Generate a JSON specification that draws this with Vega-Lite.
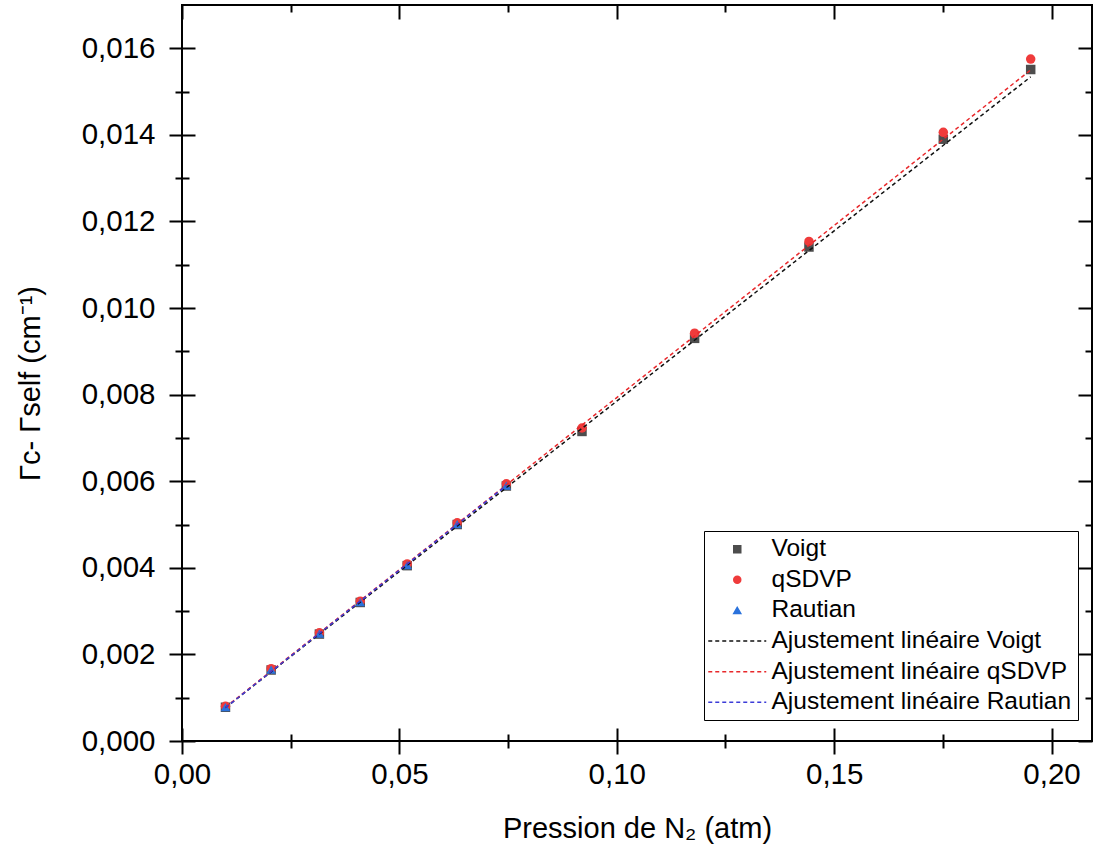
{
  "$schema": "https://vega.github.io/schema/vega-lite/v6.json",
  "width": 910,
  "height": 736,
  "autosize": {"type": "none"},
  "padding": {"left": 182, "top": 5, "right": 2, "bottom": 113},
  "background": "white",
  "config": {
    "view": {"stroke": "black", "strokeWidth": 2},
    "font": "Liberation Sans",
    "axis": {
      "grid": false,
      "domain": false,
      "tickColor": "black",
      "tickWidth": 2,
      "labelFlush": false,
      "labelOverlap": false,
      "labelFont": "Liberation Sans",
      "labelFontSize": 29.5,
      "labelColor": "black",
      "titleFont": "Liberation Sans",
      "titleFontSize": 29,
      "titleFontWeight": "normal",
      "titleColor": "black"
    },
    "legend": {
      "title": null,
      "orient": "none",
      "legendX": 522,
      "legendY": 526,
      "padding": 6,
      "strokeColor": "black",
      "fillColor": "white",
      "cornerRadius": 0,
      "labelFont": "Liberation Sans",
      "labelFontSize": 24.5,
      "labelColor": "black",
      "labelLimit": 400,
      "symbolSize": 49,
      "symbolStrokeWidth": 1.5,
      "symbolOffset": 15,
      "labelOffset": 22,
      "rowPadding": 5.6
    }
  },
  "datasets": {
    "pts": [
      {"p": 0.0100, "g": 0.00078, "series": "Voigt"},
      {"p": 0.0205, "g": 0.00164, "series": "Voigt"},
      {"p": 0.0316, "g": 0.00247, "series": "Voigt"},
      {"p": 0.0410, "g": 0.00320, "series": "Voigt"},
      {"p": 0.0518, "g": 0.00405, "series": "Voigt"},
      {"p": 0.0633, "g": 0.00500, "series": "Voigt"},
      {"p": 0.0746, "g": 0.00589, "series": "Voigt"},
      {"p": 0.0920, "g": 0.00715, "series": "Voigt"},
      {"p": 0.1179, "g": 0.00930, "series": "Voigt"},
      {"p": 0.1442, "g": 0.01141, "series": "Voigt"},
      {"p": 0.1751, "g": 0.01390, "series": "Voigt"},
      {"p": 0.1952, "g": 0.01551, "series": "Voigt"},
      {"p": 0.0100, "g": 0.00080, "series": "qSDVP"},
      {"p": 0.0205, "g": 0.00167, "series": "qSDVP"},
      {"p": 0.0316, "g": 0.00250, "series": "qSDVP"},
      {"p": 0.0410, "g": 0.00323, "series": "qSDVP"},
      {"p": 0.0518, "g": 0.00409, "series": "qSDVP"},
      {"p": 0.0633, "g": 0.00504, "series": "qSDVP"},
      {"p": 0.0746, "g": 0.00594, "series": "qSDVP"},
      {"p": 0.0920, "g": 0.00723, "series": "qSDVP"},
      {"p": 0.1179, "g": 0.00942, "series": "qSDVP"},
      {"p": 0.1442, "g": 0.01154, "series": "qSDVP"},
      {"p": 0.1751, "g": 0.01406, "series": "qSDVP"},
      {"p": 0.1952, "g": 0.01575, "series": "qSDVP"},
      {"p": 0.0100, "g": 0.00078, "series": "Rautian"},
      {"p": 0.0205, "g": 0.00165, "series": "Rautian"},
      {"p": 0.0316, "g": 0.00248, "series": "Rautian"},
      {"p": 0.0410, "g": 0.00321, "series": "Rautian"},
      {"p": 0.0518, "g": 0.00406, "series": "Rautian"},
      {"p": 0.0633, "g": 0.00501, "series": "Rautian"},
      {"p": 0.0746, "g": 0.00590, "series": "Rautian"}
    ],
    "fits": [
      {"p": 0.0100, "g": 0.00077, "series": "Ajustement linéaire Voigt"},
      {"p": 0.1952, "g": 0.01534, "series": "Ajustement linéaire Voigt"},
      {"p": 0.0100, "g": 0.00078, "series": "Ajustement linéaire qSDVP"},
      {"p": 0.1952, "g": 0.01550, "series": "Ajustement linéaire qSDVP"},
      {"p": 0.0100, "g": 0.00077, "series": "Ajustement linéaire Rautian"},
      {"p": 0.0746, "g": 0.00590, "series": "Ajustement linéaire Rautian"}
    ]
  },
  "resolve": {"axis": {"x": "independent", "y": "independent"}},
  "layer": [
    {
      "data": {"name": "pts"},
      "mark": {"type": "point", "filled": true, "opacity": 1, "size": 90},
      "encoding": {
        "x": {
          "field": "p", "type": "quantitative",
          "scale": {"domain": [0, 0.2093], "nice": false, "zero": false},
          "axis": {
            "orient": "bottom", "values": [0, 0.05, 0.1, 0.15, 0.2],
            "offset": -13, "tickSize": 26, "labelPadding": 6,
            "labelExpr": "replace(format(datum.value, '.2f'), '.', ',')",
            "title": "Pression de N₂ (atm)",
            "titleBaseline": "middle", "titleY": 100
          }
        },
        "y": {
          "field": "g", "type": "quantitative",
          "scale": {"domain": [0, 0.017], "nice": false, "zero": false},
          "axis": {
            "orient": "left",
            "values": [0, 0.002, 0.004, 0.006, 0.008, 0.01, 0.012, 0.014, 0.016],
            "offset": -13, "tickSize": 26, "labelPadding": 14,
            "labelExpr": "replace(format(datum.value, '.3f'), '.', ',')",
            "title": "Γc- Γself (cm⁻¹)",
            "titleBaseline": "middle", "titleX": -165, "titleY": 378
          }
        },
        "color": {
          "field": "series", "type": "nominal",
          "scale": {
            "domain": ["Voigt", "qSDVP", "Rautian", "Ajustement linéaire Voigt", "Ajustement linéaire qSDVP", "Ajustement linéaire Rautian"],
            "range": ["#4d4d4d", "#ef3b3b", "#2a72dc", "#111111", "#e8282b", "#3c3cd8"]
          }
        },
        "shape": {
          "field": "series", "type": "nominal",
          "scale": {
            "domain": ["Voigt", "qSDVP", "Rautian", "Ajustement linéaire Voigt", "Ajustement linéaire qSDVP", "Ajustement linéaire Rautian"],
            "range": [
              "square", "circle", "triangle-up",
              "M-8.286,0H-7.143M-6.286,0H-5.143M-4.286,0H-3.143M-2.286,0H-1.143M-0.286,0H0.857M1.714,0H2.857M3.714,0H4.857M5.714,0H6.857M7.714,0H8.286",
              "M-8.286,0H-7.143M-6.286,0H-5.143M-4.286,0H-3.143M-2.286,0H-1.143M-0.286,0H0.857M1.714,0H2.857M3.714,0H4.857M5.714,0H6.857M7.714,0H8.286",
              "M-8.286,0H-7.143M-6.286,0H-5.143M-4.286,0H-3.143M-2.286,0H-1.143M-0.286,0H0.857M1.714,0H2.857M3.714,0H4.857M5.714,0H6.857M7.714,0H8.286"
            ]
          }
        }
      }
    },
    {
      "data": {"name": "fits"},
      "mark": {"type": "line", "strokeWidth": 1.5, "strokeDash": [4, 3]},
      "encoding": {
        "x": {
          "field": "p", "type": "quantitative",
          "axis": {"orient": "top", "values": [0, 0.05, 0.1, 0.15, 0.2], "offset": -14, "tickSize": 14, "labels": false, "title": null}
        },
        "y": {
          "field": "g", "type": "quantitative",
          "axis": {"orient": "right", "values": [0, 0.002, 0.004, 0.006, 0.008, 0.01, 0.012, 0.014, 0.016], "offset": -14, "tickSize": 14, "labels": false, "title": null}
        },
        "color": {"field": "series", "type": "nominal"},
        "detail": {"field": "series"}
      }
    },
    {
      "data": {"name": "pts"},
      "mark": {"type": "point", "opacity": 0},
      "encoding": {
        "x": {
          "field": "p", "type": "quantitative",
          "axis": {"orient": "bottom", "values": [0.025, 0.075, 0.125, 0.175], "offset": -7, "tickSize": 14, "labels": false, "title": null}
        },
        "y": {
          "field": "g", "type": "quantitative",
          "axis": {"orient": "left", "values": [0.001, 0.003, 0.005, 0.007, 0.009, 0.011, 0.013, 0.015], "offset": -7, "tickSize": 14, "labels": false, "title": null}
        }
      }
    },
    {
      "data": {"name": "pts"},
      "mark": {"type": "point", "opacity": 0},
      "encoding": {
        "x": {
          "field": "p", "type": "quantitative",
          "axis": {"orient": "top", "values": [0.025, 0.075, 0.125, 0.175], "offset": -7, "tickSize": 7, "labels": false, "title": null}
        },
        "y": {
          "field": "g", "type": "quantitative",
          "axis": {"orient": "right", "values": [0.001, 0.003, 0.005, 0.007, 0.009, 0.011, 0.013, 0.015], "offset": -7, "tickSize": 7, "labels": false, "title": null}
        }
      }
    }
  ]
}
